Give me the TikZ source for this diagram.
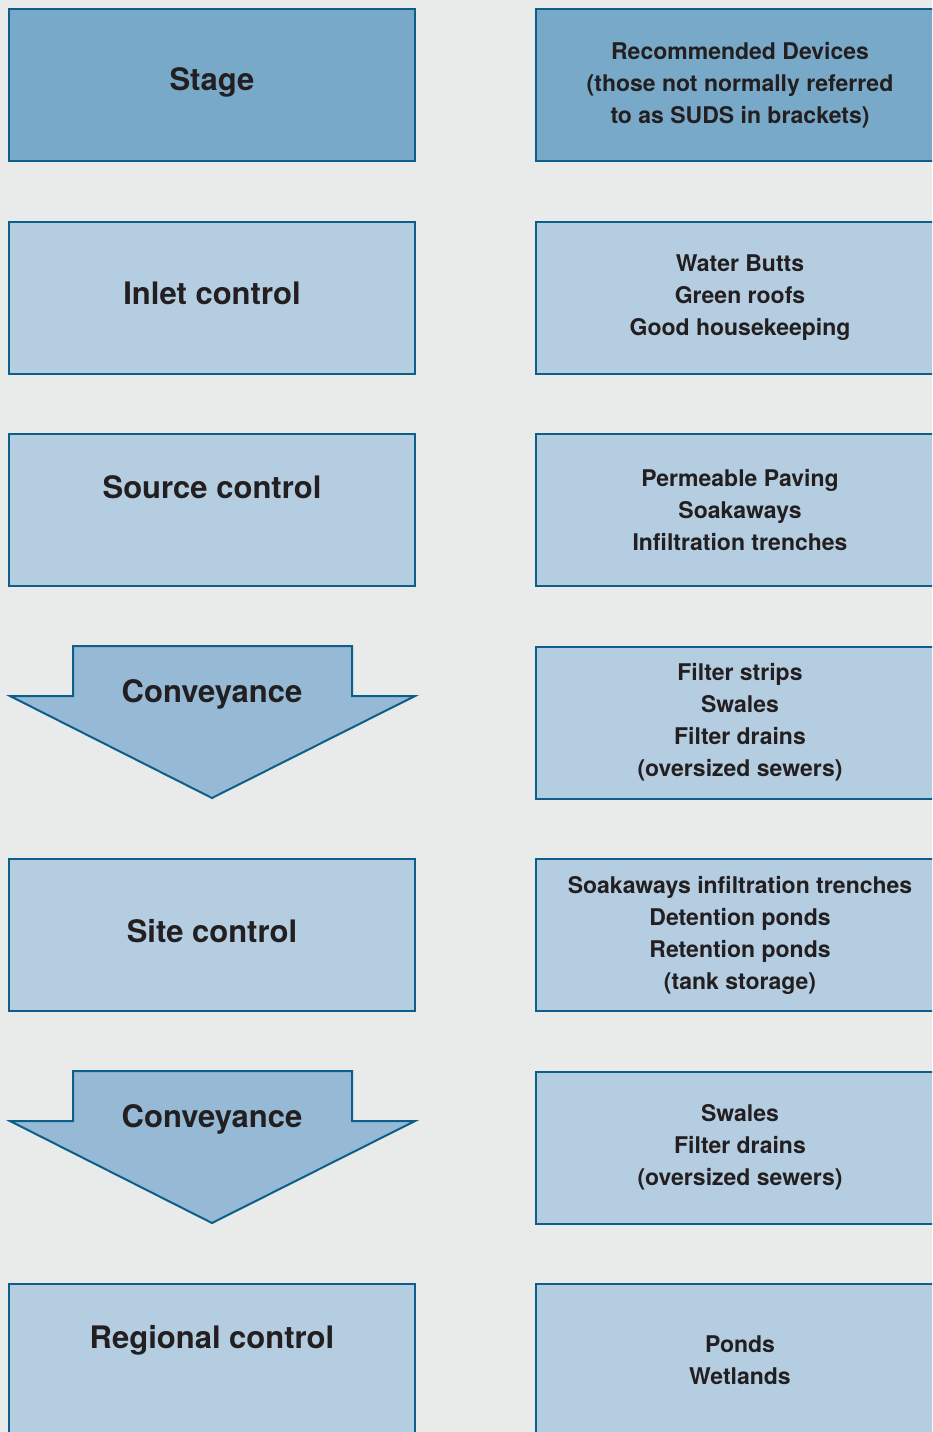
\documentclass[tikz,border=0pt]{standalone}
\usepackage{fontspec}
\setmainfont{TeX Gyre Heros}
\definecolor{sudsbg}{HTML}{E9EBEB}
\definecolor{sudshead}{HTML}{78A9C8}
\definecolor{sudsbox}{HTML}{B4CDE1}
\definecolor{sudsarrow}{HTML}{96BAD6}
\definecolor{sudsline}{HTML}{0E5E8A}
\definecolor{sudstext}{HTML}{231F20}
\tikzset{
	stagebox/.style={draw=sudsline, line width=2pt, fill=sudsbox, minimum width=406pt, minimum height=152pt, inner sep=0pt},
	devicebox/.style={stagebox, minimum width=408pt},
	headbox/.style={fill=sudshead},
	convarrow/.style={draw=sudsline, line width=2pt, fill=sudsarrow, line join=miter},
	stagetext/.style={anchor=base, text=sudstext, font=\fontsize{31}{37}\selectfont\bfseries},
	devicetext/.style={align=center, text=sudstext, font=\fontsize{23}{32}\selectfont\bfseries}
}

\begin{document}
\begin{tikzpicture}[x=1pt, y=-1pt]
			%%%%% FRAME %%%%%
			\useasboundingbox (0,0) rectangle (932,1432);
			\clip (0,0) rectangle (932,1432);
			\fill[sudsbg] (0,0) rectangle (932,1432);
			
			%%%%% STAGES %%%%%
			\node[stagebox, headbox] (stage) at (212,85) {};
			\node[stagebox] (inlet) at (212,297.5) {};
			\node[stagebox] (source) at (212,510) {};
			\coordinate (conv1) at (212,722.5);
			\node[stagebox] (site) at (212,935) {};
			\coordinate (conv2) at (212,1147.5);
			\node[stagebox] (regional) at (212,1360) {};
			
			\draw[convarrow, shift={(conv1)}] (-139,-76.5) -- (140,-76.5) -- (140,-26.5) -- (203,-26.5) -- (0,75.5) -- (-202,-26.5) -- (-139,-26.5) -- cycle;
			\draw[convarrow, shift={(conv2)}] (-139,-76.5) -- (140,-76.5) -- (140,-26.5) -- (203,-26.5) -- (0,75.5) -- (-202,-26.5) -- (-139,-26.5) -- cycle;
			
			\node[stagetext] (stage-lbl) at ([yshift=-5pt]stage.center) {Stage};
			\node[stagetext] (inlet-lbl) at ([yshift=-6.5pt]inlet.center) {Inlet control};
			\node[stagetext] (source-lbl) at ([yshift=12pt]source.center) {Source control};
			\node[stagetext] (conv1-lbl) at ([yshift=20.5pt]conv1) {Conveyance};
			\node[stagetext] (site-lbl) at ([yshift=-7pt]site.center) {Site control};
			\node[stagetext] (conv2-lbl) at ([yshift=20.5pt]conv2) {Conveyance};
			\node[stagetext] (regional-lbl) at ([yshift=12pt]regional.center) {Regional control};
			
			%%%%% DEVICES %%%%%
			\node[devicebox, headbox] (devices) at (740,85) {};
			\node[devicebox] (inlet-dev) at (740,297.5) {};
			\node[devicebox] (source-dev) at (740,510) {};
			\node[devicebox] (conv1-dev) at (740,722.5) {};
			\node[devicebox] (site-dev) at (740,935) {};
			\node[devicebox] (conv2-dev) at (740,1147.5) {};
			\node[devicebox] (regional-dev) at (740,1360) {};
			
			\node[devicetext] (devices-lbl) at (devices.center) {Recommended Devices\\(those not normally referred\\to as SUDS in brackets)};
			\node[devicetext] (inlet-dev-lbl) at (inlet-dev.center) {Water Butts\\Green roofs\\Good housekeeping};
			\node[devicetext] (source-dev-lbl) at (source-dev.center) {Permeable Paving\\Soakaways\\Infiltration trenches};
			\node[devicetext] (conv1-dev-lbl) at (conv1-dev.center) {Filter strips\\Swales\\Filter drains\\(oversized sewers)};
			\node[devicetext] (site-dev-lbl) at (site-dev.center) {Soakaways infiltration trenches\\Detention ponds\\Retention ponds\\(tank storage)};
			\node[devicetext] (conv2-dev-lbl) at (conv2-dev.center) {Swales\\Filter drains\\(oversized sewers)};
			\node[devicetext] (regional-dev-lbl) at (regional-dev.center) {Ponds\\Wetlands};
		\end{tikzpicture}
\end{document}
